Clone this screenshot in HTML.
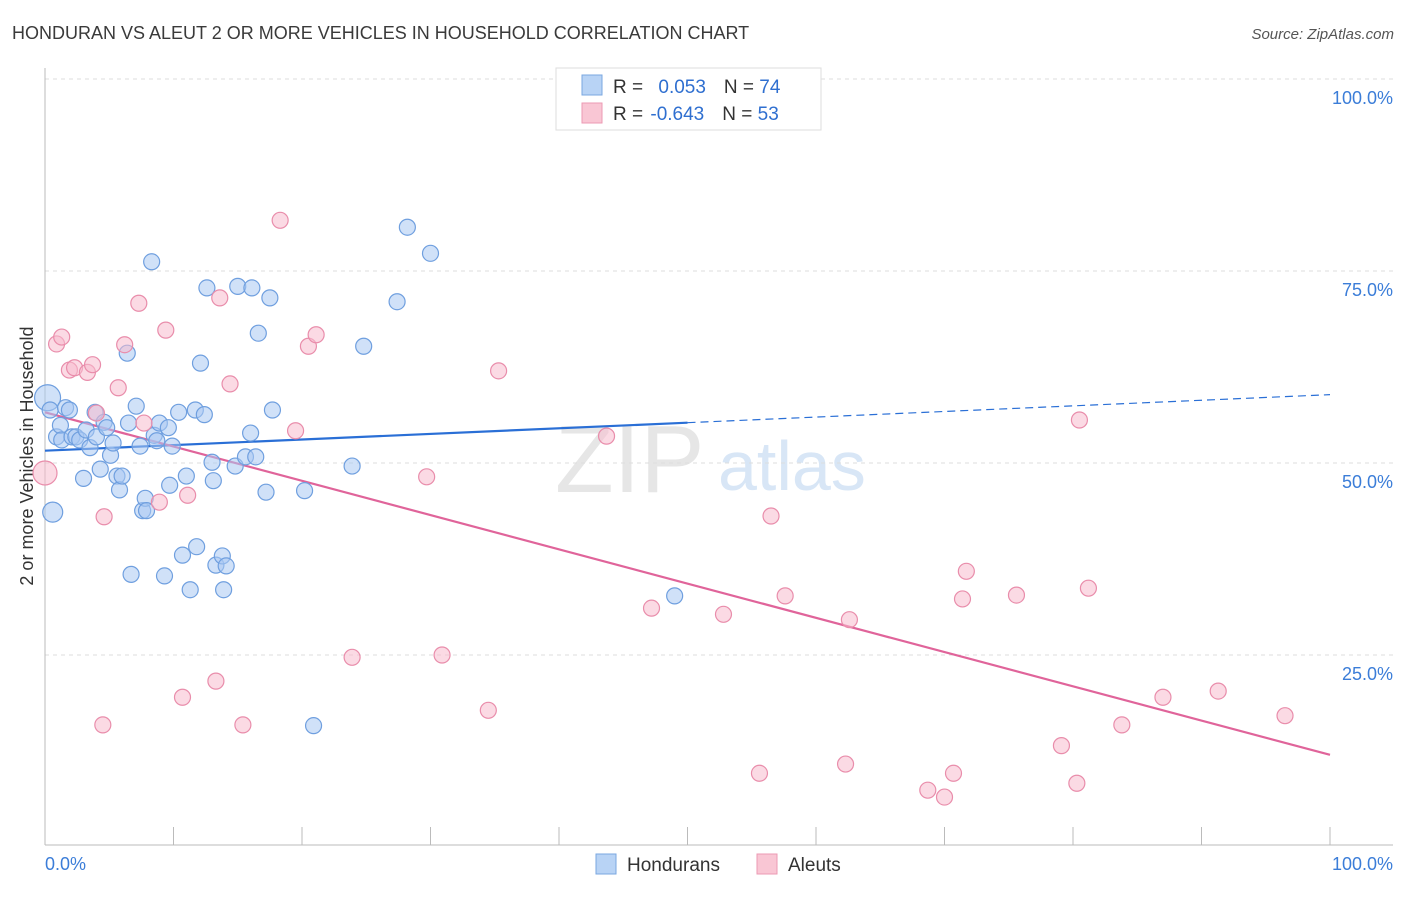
<!DOCTYPE html>
<html><head><meta charset="utf-8"><style>
body{margin:0;background:#fff;font-family:"Liberation Sans",sans-serif;}
svg text{font-family:"Liberation Sans",sans-serif;}
</style></head><body>
<svg id="chart" width="1406" height="892">
<text x="12" y="39" font-size="18" fill="#3a3a3a">HONDURAN VS ALEUT 2 OR MORE VEHICLES IN HOUSEHOLD CORRELATION CHART</text>
<text x="1394" y="39" font-size="15" fill="#555" text-anchor="end" font-style="italic">Source: ZipAtlas.com</text>
<text transform="translate(33,456) rotate(-90)" font-size="18" fill="#333" text-anchor="middle">2 or more Vehicles in Household</text>
<text x="555" y="492" font-size="96" fill="#e6e6e6" font-family="Liberation Serif">ZIP</text>
<text x="718" y="490" font-size="70" fill="#d8e6f6">atlas</text>
<g id="grid"></g>
<g id="trends"></g>
<g id="points"></g>
<g>
<rect x="556" y="68" width="265" height="62" fill="#fff" stroke="#ddd"/>
<rect x="582" y="75" width="20" height="20" fill="#b8d3f5" stroke="#7aa7e0"/>
<rect x="582" y="103" width="20" height="20" fill="#f9c6d4" stroke="#ec9ab3"/>
<text x="613" y="93" font-size="19" fill="#333">R = <tspan fill="#2f6fd0" dx="10">0.053</tspan><tspan dx="18" fill="#333">N = </tspan><tspan fill="#2f6fd0">74</tspan></text>
<text x="613" y="120" font-size="19" fill="#333">R = <tspan fill="#2f6fd0" dx="2">-0.643</tspan><tspan dx="18" fill="#333">N = </tspan><tspan fill="#2f6fd0">53</tspan></text>
</g>
<g>
<rect x="596" y="854" width="20" height="20" fill="#b8d3f5" stroke="#7aa7e0"/>
<text x="627" y="871" font-size="19" fill="#333">Hondurans</text>
<rect x="757" y="854" width="20" height="20" fill="#f9c6d4" stroke="#ec9ab3"/>
<text x="788" y="871" font-size="19" fill="#333">Aleuts</text>
</g>
<text x="45" y="870" font-size="18" fill="#3b7dd8">0.0%</text>
<text x="1393" y="870" font-size="18" fill="#3b7dd8" text-anchor="end">100.0%</text>
</svg>
<script>
const blueX=[0.2,0.4,0.6,0.9,1.2,1.3,1.6,1.9,2.1,2.4,2.7,3.0,3.2,3.5,3.9,4.0,4.3,4.6,4.8,5.1,5.3,5.6,5.8,6.0,6.4,6.5,6.7,7.1,7.4,7.6,7.8,7.9,8.3,8.5,8.7,8.9,9.3,9.6,9.7,9.9,10.4,10.7,11.0,11.3,11.7,11.8,12.1,12.4,12.6,13.0,13.1,13.3,13.8,14.1,13.9,14.8,15.0,15.6,16.0,16.1,16.4,16.6,17.2,17.5,17.7,20.2,20.9,23.9,24.8,27.4,28.2,30.0,49.0];
const blueY=[58.5,56.9,43.6,53.4,54.9,53.0,57.2,56.9,53.4,53.4,53.0,48.0,54.3,52.0,56.6,53.4,49.2,55.3,54.6,51.0,52.6,48.3,46.5,48.3,64.3,55.2,35.5,57.4,52.2,43.8,45.4,43.8,76.2,53.6,52.9,55.2,35.3,54.6,47.1,52.2,56.6,38.0,48.3,33.5,56.9,39.1,63.0,56.3,72.8,50.1,47.7,36.7,37.9,36.6,33.5,49.6,73.0,50.8,53.9,72.8,50.8,66.9,46.2,71.5,56.9,46.4,15.8,49.6,65.2,71.0,80.7,77.3,32.7];
const pinkX=[0.0,0.9,1.3,1.9,2.3,3.3,3.7,4.0,4.6,4.5,5.7,6.2,7.3,7.7,8.9,9.4,10.7,11.1,13.3,13.6,14.4,15.4,18.3,19.5,20.5,21.1,23.9,29.7,30.9,34.5,35.3,43.7,47.2,52.8,55.6,56.5,57.6,62.3,62.6,68.7,70.0,70.7,71.4,71.7,75.6,79.1,80.3,80.5,81.2,83.8,87.0,91.3,96.5];
const pinkY=[48.7,65.5,66.4,62.1,62.4,61.8,62.8,56.5,43.0,15.9,59.8,65.4,70.8,55.2,44.9,67.3,19.5,45.8,21.6,71.5,60.3,15.9,81.6,54.2,65.2,66.7,24.7,48.2,25.0,17.8,62.0,53.5,31.1,30.3,9.6,43.1,32.7,10.8,29.6,7.4,6.5,9.6,32.3,35.9,32.8,13.2,8.3,55.6,33.7,15.9,19.5,20.3,17.1];
const yTicks=[25,50,75,100];
const yTickLabels=["25.0%","50.0%","75.0%","100.0%"];
const xTicks=[10,20,30,40,50,60,70,80,90,100];
const blueTrend=[51.6,58.9];
const pinkTrend=[56.6,12.0];
const NS='http://www.w3.org/2000/svg';
const X0=45,X1=1330,Y0=847,Y100=79;
const sx=v=>X0+(X1-X0)*v/100;
const sy=v=>Y0-(Y0-Y100)*v/100;
function mk(t,a,p){const e=document.createElementNS(NS,t);for(const k in a)e.setAttribute(k,a[k]);p.appendChild(e);return e;}
const grid=document.getElementById('grid');
yTicks.forEach((t,i)=>{
 const l=mk('line',{x1:X0,x2:1393,y1:sy(t),y2:sy(t),stroke:'#ddd','stroke-dasharray':'4,4'},grid);
 
 
 const tx=mk('text',{x:1393,y:sy(t)+25,'font-size':18,fill:'#3b7dd8','text-anchor':'end'},grid);
 tx.textContent=yTickLabels[i];
 
 
});
const ax=mk('line',{x1:X0,x2:X0,y1:68,y2:845,stroke:'#bbb'},grid);


const bx=mk('line',{x1:X0,x2:1393,y1:845,y2:845,stroke:'#bbb'},grid);


xTicks.forEach(t=>{
 const k=mk('line',{x1:sx(t),x2:sx(t),y1:827,y2:845,stroke:'#bbb'},grid);
 
 
});
const pts=document.getElementById('points');
function dot(x,y,r,fill,stroke,name){
 const c=mk('circle',{cx:sx(x),cy:sy(y),r:r,fill:fill,'fill-opacity':0.55,stroke:stroke,'stroke-width':1.2},pts);
 
 
}
blueX.forEach((x,i)=>dot(x,blueY[i],i===0?13:(i===2?10:8),'#a9c8f2','#6f9fdf','honduran-point'));
pinkX.forEach((x,i)=>dot(x,pinkY[i],i===0?12:8,'#f7bccd','#e98dab','aleut-point'));
const tr=document.getElementById('trends');
const bm=blueTrend[0]+(blueTrend[1]-blueTrend[0])*0.5;
const b1=mk('line',{x1:sx(0),y1:sy(blueTrend[0]),x2:sx(50),y2:sy(bm),stroke:'#2a6fd6','stroke-width':2.2},tr);


const b2=mk('line',{x1:sx(50),y1:sy(bm),x2:sx(100),y2:sy(blueTrend[1]),stroke:'#2a6fd6','stroke-width':1.2,'stroke-dasharray':'8,5'},tr);


const p1=mk('line',{x1:sx(0),y1:sy(pinkTrend[0]),x2:sx(100),y2:sy(pinkTrend[1]),stroke:'#e0649a','stroke-width':2.2},tr);


</script>
</body></html>
